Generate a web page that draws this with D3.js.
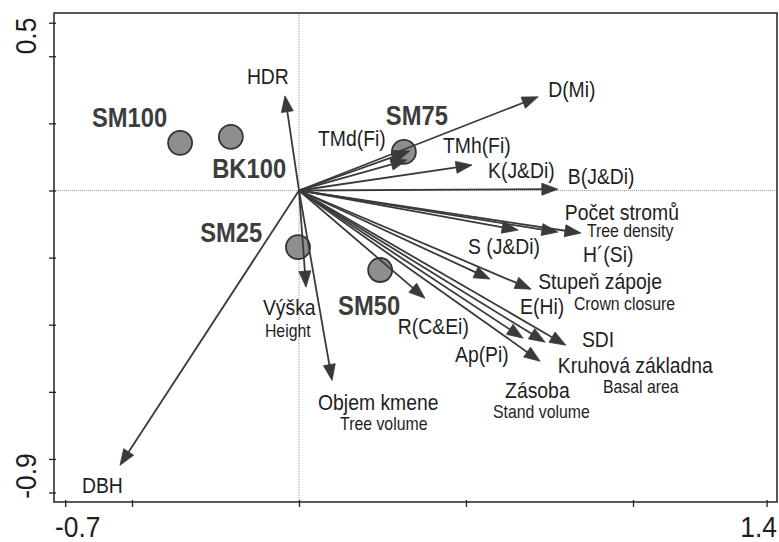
<!DOCTYPE html>
<html>
<head>
<meta charset="utf-8">
<script src="https://cdn.jsdelivr.net/npm/d3@7/dist/d3.min.js"></script>
<style>
  html, body { margin: 0; padding: 0; background: #fff; }
  svg { display: block; }
  text { font-family: "Liberation Sans", Arial, sans-serif; }
</style>
</head>
<body>
<svg id="chart" width="779" height="542"></svg>
<script>
// Environmental / structural variables (arrows from origin), ordination scores
const varNames = ["HDR", "D(Mi)", "TMd(Fi)", "TMh(Fi)", "K(J&Di)", "B(J&Di)",
  "S (J&Di)", "H´(Si)", "Počet stromů", "E(Hi)", "Stupeň zápoje", "R(C&Ei)",
  "Ap(Pi)", "Kruhová základna", "SDI", "Zásoba", "Výška", "Objem kmene", "DBH"];
const varAxis1 = [-0.042, 0.716, 0.332, 0.323, 0.518, 0.775,
  0.656, 0.775, 0.844, 0.572, 0.695, 0.377,
  0.671, 0.737, 0.799, 0.722, 0.021, 0.099, -0.536];
const varAxis2 = [0.282, 0.279, 0.118, 0.091, 0.076, 0.004,
  -0.118, -0.124, -0.127, -0.264, -0.294, -0.321,
  -0.440, -0.452, -0.461, -0.509, -0.288, -0.566, -0.819];
// English subtitles for some variables
const varSubtitles = {
  "Počet stromů": "Tree density",
  "Stupeň zápoje": "Crown closure",
  "Kruhová základna": "Basal area",
  "Zásoba": "Stand volume",
  "Výška": "Height",
  "Objem kmene": "Tree volume"
};

// Stand types (sites)
const siteNames = ["SM100", "BK100", "SM75", "SM25", "SM50"];
const siteAxis1 = [-0.356, -0.204, 0.314, -0.003, 0.243];
const siteAxis2 = [0.142, 0.160, 0.115, -0.169, -0.237];

// Axis ticks
const xTicks = [-0.7, -0.5, 0, 0.5, 1.0, 1.4];
const yTicks = [0.5, 0.4, 0.2, 0, -0.2, -0.4, -0.6, -0.8, -0.9];
const xTickLabels = ["-0.7", "1.4"];
const yTickLabels = ["0.5", "-0.9"];

// Label placement, in axis units: [x, baseline y]
const varLabelAt = {
  "HDR": [-0.156, 0.318], "D(Mi)": [0.746, 0.279], "TMd(Fi)": [0.057, 0.133],
  "TMh(Fi)": [0.431, 0.112], "K(J&Di)": [0.566, 0.037], "B(J&Di)": [0.805, 0.019],
  "Počet stromů": [0.796, -0.088], "H´(Si)": [0.850, -0.213], "S (J&Di)": [0.506, -0.190],
  "Stupeň zápoje": [0.716, -0.294], "E(Hi)": [0.662, -0.369], "SDI": [0.847, -0.467],
  "Kruhová základna": [0.775, -0.545], "Zásoba": [0.617, -0.619], "Ap(Pi)": [0.467, -0.512],
  "R(C&Ei)": [0.296, -0.428], "Výška": [-0.108, -0.372], "Objem kmene": [0.057, -0.655],
  "DBH": [-0.650, -0.900]
};
const subLabelAt = {
  "Počet stromů": [0.862, -0.139], "Stupeň zápoje": [0.823, -0.357],
  "Kruhová základna": [0.910, -0.604], "Zásoba": [0.581, -0.679],
  "Výška": [-0.102, -0.437], "Objem kmene": [0.123, -0.715]
};
const siteLabelAt = {
  "SM100": [-0.620, 0.190], "BK100": [-0.260, 0.037], "SM75": [0.260, 0.196],
  "SM25": [-0.296, -0.154], "SM50": [0.117, -0.372]
};

const svg = d3.select("#chart");
const frame = { left: 54, right: 777, top: 13, bottom: 502 };
const x = d3.scaleLinear().domain([-0.7, 1.4]).range([65.2, 766.6]);
const y = d3.scaleLinear().domain([-0.9, 0.5]).range([492.5, 22.7]);

const ink = "#3a3a3a";
const squeeze = 0.88;

function label(parent, px, py, str, size, weight, anchor, color, rotate) {
  const t = parent.append("text")
    .attr("transform", `translate(${px},${py})` + (rotate ? ` rotate(${rotate})` : "") + ` scale(${squeeze},1)`)
    .attr("font-size", size)
    .attr("font-weight", weight || "normal")
    .attr("text-anchor", anchor || "start")
    .attr("fill", color || "#1e1e1e")
    .text(str);
  return t;
}

// Zero reference lines
svg.append("line")
  .attr("x1", frame.left).attr("x2", frame.right)
  .attr("y1", y(0)).attr("y2", y(0))
  .attr("stroke", "#9a9a9a").attr("stroke-width", 1).attr("stroke-dasharray", "1,1");
svg.append("line")
  .attr("x1", x(0)).attr("x2", x(0))
  .attr("y1", frame.top).attr("y2", frame.bottom)
  .attr("stroke", "#9a9a9a").attr("stroke-width", 1).attr("stroke-dasharray", "1,1");

// Frame
svg.append("rect")
  .attr("x", frame.left).attr("y", frame.top)
  .attr("width", frame.right - frame.left).attr("height", frame.bottom - frame.top)
  .attr("fill", "none").attr("stroke", "#222").attr("stroke-width", 1.5);

// Axes (ticks only; endpoint labels drawn separately)
const xAxis = svg.append("g")
  .attr("transform", `translate(0,${frame.bottom})`)
  .call(d3.axisBottom(x).tickValues(xTicks).tickSize(5).tickFormat(""));
const yAxis = svg.append("g")
  .attr("transform", `translate(${frame.left},0)`)
  .call(d3.axisLeft(y).tickValues(yTicks).tickSize(5).tickFormat(""));
[xAxis, yAxis].forEach(g => {
  g.select(".domain").remove();
  g.selectAll(".tick line").attr("stroke", "#222").attr("stroke-width", 1.3);
});
xAxis.selectAll(".tick line").attr("y1", -2);
yAxis.selectAll(".tick line").attr("x1", 2);

// Tick labels at the axis ends
label(svg, 55, 537, xTickLabels[0], 30, "normal", "start", "#1e1e1e");
label(svg, 777, 537, xTickLabels[1], 30, "normal", "end", "#1e1e1e");
label(svg, 36, 36, yTickLabels[0], 30, "normal", "middle", "#1e1e1e", -90);
label(svg, 36, 476, yTickLabels[1], 30, "normal", "middle", "#1e1e1e", -90);

// Site points
const sites = siteNames.map((n, i) => ({ name: n, a1: siteAxis1[i], a2: siteAxis2[i] }));
svg.append("g").selectAll("circle").data(sites).join("circle")
  .attr("cx", d => x(d.a1)).attr("cy", d => y(d.a2)).attr("r", 12)
  .attr("fill", "#8e8e8e").attr("stroke", "#333").attr("stroke-width", 1.8);

// Variable arrows
const vars = varNames.map((n, i) => ({ name: n, a1: varAxis1[i], a2: varAxis2[i] }));
const headLen = 16, headHalf = 6;
const arrows = svg.append("g");
vars.forEach(d => {
  const x0 = x(0), y0 = y(0), x1 = x(d.a1), y1 = y(d.a2);
  const dx = x1 - x0, dy = y1 - y0, L = Math.hypot(dx, dy);
  const ux = dx / L, uy = dy / L;
  const bx = x1 - ux * headLen, by = y1 - uy * headLen;
  arrows.append("line")
    .attr("x1", x0).attr("y1", y0).attr("x2", bx + ux * 2).attr("y2", by + uy * 2)
    .attr("stroke", ink).attr("stroke-width", 1.8);
  arrows.append("path")
    .attr("d", `M${x1},${y1}L${bx - uy * headHalf},${by + ux * headHalf}L${bx + uy * headHalf},${by - ux * headHalf}Z`)
    .attr("fill", ink).attr("stroke", ink).attr("stroke-width", 0.8).attr("stroke-linejoin", "miter");
});

// Variable labels
const labels = svg.append("g");
vars.forEach(d => {
  const p = varLabelAt[d.name];
  label(labels, x(p[0]), y(p[1]), d.name, 22, "normal", "start", "#1e1e1e");
  if (varSubtitles[d.name]) {
    const s = subLabelAt[d.name];
    label(labels, x(s[0]), y(s[1]), varSubtitles[d.name], 18, "normal", "start", "#1e1e1e");
  }
});

// Site labels
sites.forEach(d => {
  const p = siteLabelAt[d.name];
  label(labels, x(p[0]), y(p[1]), d.name, 27, "bold", "start", "#3d3d3d");
});
</script>
</body>
</html>
